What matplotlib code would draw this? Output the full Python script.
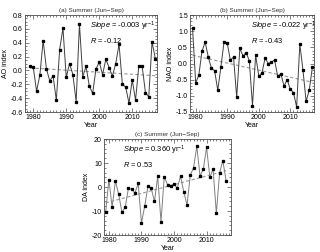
import numpy as np
import matplotlib
matplotlib.use("Agg")
import matplotlib.pyplot as plt
from matplotlib.ticker import MultipleLocator

plt.rcParams['font.family'] = ['Liberation Sans', 'DejaVu Sans']
plt.rcParams['mathtext.fontset'] = 'custom'
plt.rcParams['mathtext.rm'] = 'Liberation Sans'
plt.rcParams['mathtext.it'] = 'Liberation Sans:italic'

# summer (Jun-Sep) index series
years_ab = list(range(1979, 2018))
years_c = list(range(1979, 2017))

ao_index = [0.06, 0.05, -0.30, -0.07, 0.43, 0.02, -0.15, -0.08, -0.43, 0.30,
            0.61, -0.10, 0.10, -0.06, -0.45, 0.67, -0.09, 0.06, -0.23, -0.33,
            0.02, 0.12, -0.06, 0.16, 0.04, -0.08, 0.10, 0.38, -0.20, -0.24,
            -0.47, -0.14, -0.43, 0.07, 0.06, -0.32, -0.38, 0.41, 0.17]

nao_index = [1.10, -0.60, -0.36, 0.38, 0.66, 0.20, -0.15, -0.22, -0.83, -0.10,
             0.68, 0.63, 0.10, 0.20, -1.05, 0.47, 0.23, 0.34, 0.08, -1.30,
             0.25, -0.38, -0.30, 0.17, 0.00, 0.04, 0.11, -0.40, -0.32, -0.70,
             -0.50, -0.80, -0.90, -1.35, 0.60, -0.20, -1.17, -0.82, -0.10]

da_index = [-10.5, 3.0, -8.5, 2.5, -3.0, -10.5, -8.5, -0.5, -1.0, -2.5,
            1.5, -15.0, -8.0, 0.3, -0.5, -6.0, 4.5, -14.5, 4.2, 1.0,
            0.5, 1.2, -0.5, 4.5, -2.0, -7.5, 5.0, 8.0, 17.0, 4.5,
            7.5, 16.5, 4.0, 7.5, -11.0, 6.0, 11.0, 2.5]

titles = ["(a) Summer (Jun\u2212Sep)", "(b) Summer (Jun\u2212Sep)", "(c) Summer (Jun\u2212Sep)"]
ylabels = ["AO index", "NAO index", "DA index"]
slopes = ["-0.003", "-0.022", "0.360"]
rvals = ["-0.12", "-0.43", "0.53"]

fig = plt.figure(figsize=(3.2, 2.52), dpi=100)
W, H = 320.0, 252.0


def make_ax(l, t, r, b):
    return fig.add_axes([l / W, 1 - b / H, (r - l) / W, (b - t) / H])


axes = [make_ax(25, 15, 157, 112), make_ax(190, 15, 314, 112), make_ax(104, 139, 231, 235)]
series = [(years_ab, ao_index), (years_ab, nao_index), (years_c, da_index)]
ylims = [(-0.6, 0.8), (-1.5, 1.5), (-20, 20)]
ymaj = [0.2, 0.5, 10]
ymin = [0.05, 0.1, 2]
yfmt = ["%.1f", "%.1f", "%d"]
line_cols = ["0.25", "0.25", "0.5"]
xlims = [(1977.5, 2017.5), (1978.2, 2017.5), (1978.5, 2017.5)]

for i, ax in enumerate(axes):
    x, y = series[i]
    x = np.array(x)
    y = np.array(y)
    ax.plot(x, y, color=line_cols[i], lw=0.7, marker='s', ms=1.4,
            mfc='k', mec='k', zorder=3)
    p = np.polyfit(x, y, 1)
    ax.plot(x, np.polyval(p, x), color='0.6', lw=0.8, ls=(0, (3, 2)), zorder=2)
    ax.set_xlim(*xlims[i])
    ax.set_ylim(*ylims[i])
    ax.xaxis.set_major_locator(MultipleLocator(10))
    ax.xaxis.set_minor_locator(MultipleLocator(1))
    ax.yaxis.set_major_locator(MultipleLocator(ymaj[i]))
    ax.yaxis.set_minor_locator(MultipleLocator(ymin[i]))
    ax.yaxis.set_major_formatter(matplotlib.ticker.FormatStrFormatter(yfmt[i]))
    ax.tick_params(which='both', direction='in', top=True, right=True,
                   labelsize=5, pad=1.5, width=0.5, color='0.3')
    ax.tick_params(which='major', length=3)
    ax.tick_params(which='minor', length=1.5)
    for s in ax.spines.values():
        s.set_linewidth(0.6)
        s.set_color('0.3')
    ax.set_title(titles[i], fontsize=4.6, pad=2.5, color='0.2')
    ax.set_ylabel(ylabels[i], fontsize=5, labelpad=1.5)
    ax.set_xlabel("Year", fontsize=5, labelpad=0.5)
    tx = 0.49 if i < 2 else 0.15
    ax.text(tx, 0.86, r"$\mathit{Slope}$ = " + slopes[i] + r" yr$^{-1}$",
            transform=ax.transAxes, fontsize=5.4)
    ax.text(tx, 0.71, r"$\mathit{R}$ = " + rvals[i],
            transform=ax.transAxes, fontsize=5.4)

fig.savefig("out.png", dpi=100)
